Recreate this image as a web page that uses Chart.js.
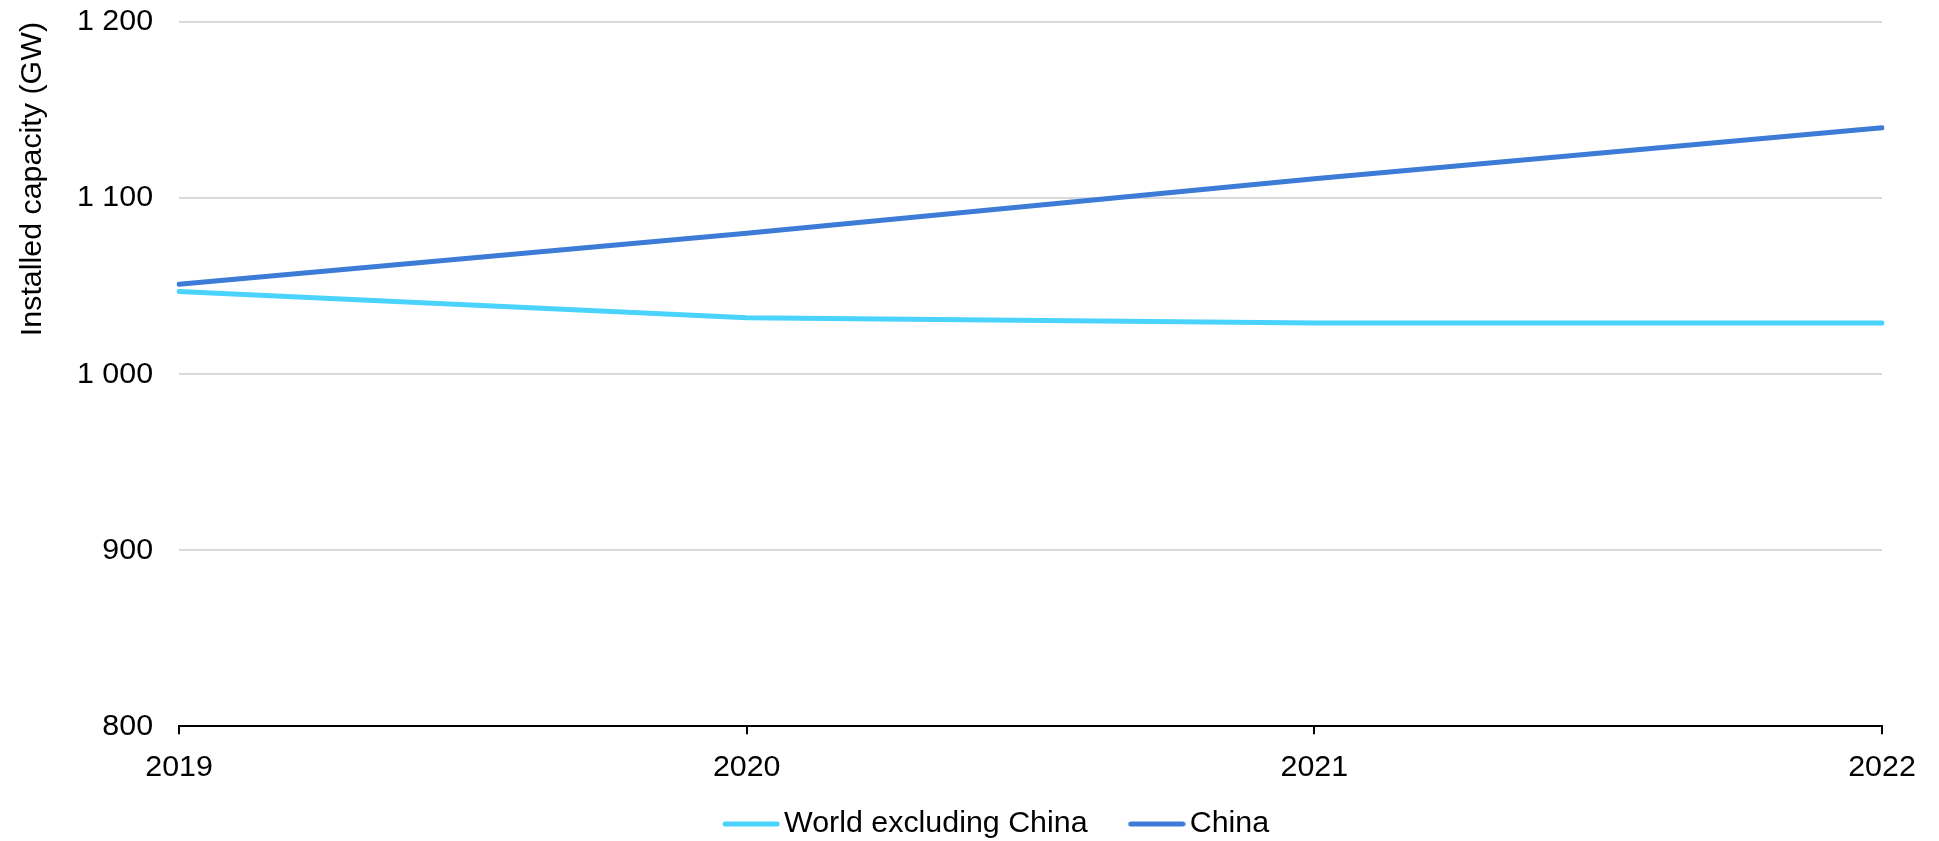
<!DOCTYPE html>
<html>
<head>
<meta charset="utf-8">
<script src="https://cdn.jsdelivr.net/npm/chart.js@4.4.1/dist/chart.umd.min.js"></script>
<style>
  html, body { margin: 0; padding: 0; background: #ffffff; }
  #wrap { width: 1939px; height: 841px; }
</style>
</head>
<body>
<div id="wrap"><canvas id="c" width="1939" height="841"></canvas></div>
<script>
const years = ['2019', '2020', '2021', '2022'];
const worldExChina = [1047, 1032, 1029, 1029];
const china = [1051, 1080, 1111, 1140];
const seriesNames = ['World excluding China', 'China'];
const seriesColors = ['#4AD3FD', '#3C7BD6'];
const yTickValues = [800, 900, 1000, 1100, 1200];
const yTitle = 'Installed capacity (GW)';

function fmt(v) {
  if (v >= 1000) return Math.floor(v / 1000) + ' ' + String(v % 1000).padStart(3, '0');
  return String(v);
}

// legend swatch: a short thick line, placed close to its label
function legendLine(color) {
  const c = document.createElement('canvas');
  c.width = 102; c.height = 10;
  const g = c.getContext('2d');
  g.strokeStyle = color; g.lineWidth = 5; g.lineCap = 'round';
  g.beginPath(); g.moveTo(47.2, 5); g.lineTo(99.2, 5); g.stroke();
  return c;
}

const font = 'Liberation Sans, Arial, sans-serif';
const fs = 30.4;
Chart.defaults.font.family = font;
Chart.defaults.color = '#000000';

const legendShift = {
  id: 'legendShift',
  afterLayout(chart) {
    const lg = chart.legend;
    if (lg) { lg.left += 38; lg.right += 38; }
  }
};

new Chart(document.getElementById('c'), {
  type: 'line',
  plugins: [legendShift],
  data: {
    labels: years,
    datasets: [
      { label: seriesNames[0], data: worldExChina, borderColor: seriesColors[0], backgroundColor: seriesColors[0],
        borderWidth: 5, pointRadius: 0, pointHoverRadius: 0, tension: 0, borderCapStyle: 'round', pointStyle: legendLine(seriesColors[0]) },
      { label: seriesNames[1], data: china, borderColor: seriesColors[1], backgroundColor: seriesColors[1],
        borderWidth: 5, pointRadius: 0, pointHoverRadius: 0, tension: 0, borderCapStyle: 'round', pointStyle: legendLine(seriesColors[1]) }
    ]
  },
  options: {
    responsive: false,
    animation: false,
    layout: { padding: { top: 22, right: 57, left: 0, bottom: -8.2 } },
    plugins: {
      tooltip: { enabled: false },
      legend: {
        position: 'bottom',
        labels: {
          usePointStyle: true,
          pointStyleWidth: 80,
          boxHeight: 10,
          padding: 7,
          color: '#000000',
          font: { size: fs, family: font }
        }
      }
    },
    scales: {
      x: {
        type: 'category',
        offset: false,
        border: { display: true, color: '#000000', width: 2 },
        grid: { display: true, drawOnChartArea: false, drawTicks: true, tickLength: 8, color: '#000000', lineWidth: 2 },
        ticks: { color: '#000000', font: { size: fs, family: font }, padding: 15.5, maxRotation: 0, autoSkip: false }
      },
      y: {
        min: 800, max: 1200,
        afterBuildTicks: (s) => { s.ticks = yTickValues.map(v => ({ value: v })); },
        afterFit: (s) => { s.paddingTop = 0; },
        border: { display: false },
        grid: { color: '#d9d9d9', lineWidth: 2, drawTicks: false },
        ticks: { color: '#000000', font: { size: fs, family: font }, padding: 26, callback: (v) => fmt(v) },
        title: { display: true, text: yTitle, align: 'end', color: '#000000', font: { size: fs, family: font }, padding: { top: 14, bottom: 0.5 } }
      }
    }
  }
});
</script>
</body>
</html>
